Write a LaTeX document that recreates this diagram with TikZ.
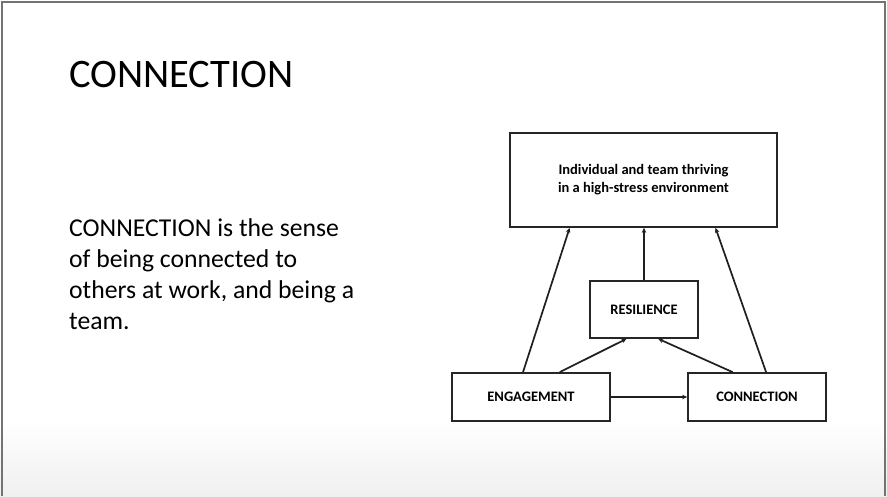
\documentclass[tikz,border=0pt]{standalone}
\usepackage{fontspec}
\setmainfont{Carlito}
\usetikzlibrary{arrows.meta,calc}
\begin{document}
\begin{tikzpicture}[x=1pt,y=-1pt,
  box/.style={draw=black!85,line width=1.7pt,fill=white,inner sep=0pt,align=center,
    font=\bfseries\fontsize{14.5}{18}\selectfont},
  link/.style={draw=black!88,line width=1.7pt,-{Stealth[length=5pt,width=4.5pt]}}]
  % slide background with a soft fade at the bottom
  \useasboundingbox (0,0) rectangle (887,496);
  \fill[white] (0,0) rectangle (887,496);
  \shade[top color=white,bottom color=black!6] (0,420) rectangle (887,496);
  \draw[black!55,line width=1.2pt] (2,496) -- (2,2) -- (885,2) -- (885,496);

  % title and text
  \node[anchor=base west,inner sep=0pt,font=\fontsize{40.5}{44}\selectfont] (title) at (69,87) {CONNECTION};
  \node[anchor=north west,inner sep=0pt,align=left,
        font=\fontsize{25.7}{31.2}\selectfont] (body) at (69,218)
        {CONNECTION is the sense\\of being connected to\\others at work, and being a\\team.};

  % model boxes
  \node[box,minimum width=267pt,minimum height=94pt] (thrive) at (643.5,180)
    {\raisebox{-2pt}{\begin{tabular}{@{}c@{}}Individual and team thriving\\in a high-stress environment\end{tabular}}};
  \node[box,minimum width=108pt,minimum height=57pt] (res) at (644,309.5) {RESILIENCE};
  \node[box,minimum width=158pt,minimum height=48pt] (eng) at (531,397) {\raisebox{-1pt}{ENGAGEMENT}};
  \node[box,minimum width=138pt,minimum height=48pt] (con) at (757,397) {\raisebox{-1pt}{CONNECTION}};

  % influences
  \draw[link] ($(eng.north west)!0.45!(eng.north east)$) -- ($(thrive.south west)!0.225!(thrive.south east)$);
  \draw[link] (res.north) -- (res.north |- thrive.south);
  \draw[link] ($(con.north west)!0.565!(con.north east)$) -- ($(thrive.south west)!0.768!(thrive.south east)$);
  \draw[link] ($(eng.north west)!0.68!(eng.north east)$) -- ($(res.south west)!0.34!(res.south east)$);
  \draw[link] ($(con.north west)!0.326!(con.north east)$) -- ($(res.south west)!0.63!(res.south east)$);
  \draw[link] (eng.east) -- (con.west);
\end{tikzpicture}
\end{document}
